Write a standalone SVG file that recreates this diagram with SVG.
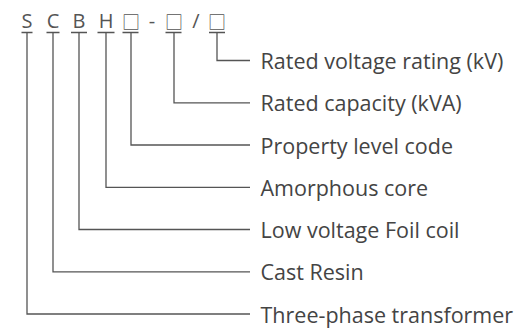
<svg xmlns="http://www.w3.org/2000/svg" width="519" height="329" viewBox="0 0 519 329">
<style>
.code{font-family:"Open Sans","Noto Sans","DejaVu Sans",sans-serif;font-size:20px;fill:#555;text-anchor:middle}
.box{font-family:"Noto Sans CJK SC","DejaVu Sans",sans-serif;font-size:18px;fill:#555;text-anchor:middle}
.lbl{font-family:"Open Sans","Noto Sans",sans-serif;font-size:21.5px;fill:#444}
.ln{fill:none;stroke:#555;stroke-width:1.3}
</style>
<rect width="519" height="329" fill="#fff"/>
<g id="code">
<text class="code" x="27" y="28">S</text>
<text class="code" x="53" y="28">C</text>
<text class="code" x="79" y="28">B</text>
<text class="code" x="106" y="28">H</text>
<text class="box" x="131" y="28.5">□</text>
<text class="code" x="152" y="28">-</text>
<text class="box" x="174" y="28.5">□</text>
<text class="code" x="196" y="28">/</text>
<text class="box" x="217" y="28.5">□</text>
</g>
<g id="connectors" class="ln">
<path d="M21.5 32.5H32.5M46.5 32.5H59.5M71 32.5H87M97.5 32.5H114.5M122.5 32.5H138.5M165.5 32.5H181.5M209 32.5H225"/>
<path d="M217 32.5V60.5H250"/>
<path d="M174 32.5V102.8H250"/>
<path d="M131 32.5V145H250"/>
<path d="M106 32.5V187.3H250"/>
<path d="M79 32.5V229.5H250"/>
<path d="M53 32.5V271.8H250"/>
<path d="M27 32.5V314H250"/>
</g>
<g id="n1"><text class="lbl" x="260.5" y="69">Rated voltage rating (kV)</text></g>
<g id="n2"><text class="lbl" x="260.5" y="111.3">Rated capacity (kVA)</text></g>
<g id="n3"><text class="lbl" x="260.5" y="153.5">Property level code</text></g>
<g id="n4"><text class="lbl" x="260.5" y="195.8">Amorphous core</text></g>
<g id="n5"><text class="lbl" x="260.5" y="238">Low voltage Foil coil</text></g>
<g id="n6"><text class="lbl" x="260.5" y="280.3">Cast Resin</text></g>
<g id="n7"><text class="lbl" x="260.5" y="322.5">Three-phase transformer</text></g>
</svg>
